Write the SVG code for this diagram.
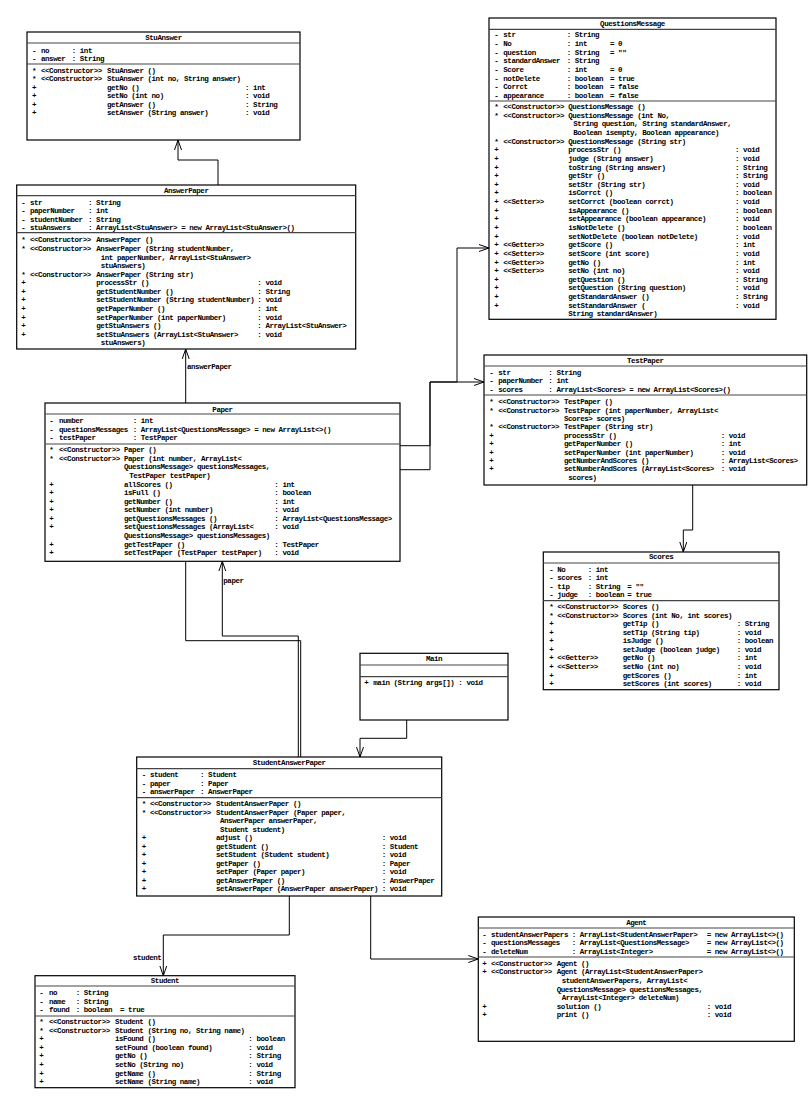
<svg xmlns="http://www.w3.org/2000/svg" width="808" height="1104" viewBox="0 0 808 1104">
<defs>
<style>
text{font-family:"Liberation Mono","DejaVu Sans Mono",monospace;font-size:7.5px;font-weight:bold;letter-spacing:-0.45px;fill:#000;dominant-baseline:central}
tspan{dominant-baseline:central}
.t{text-anchor:middle}
.b{fill:#fff;stroke:#000;stroke-width:1.2}
.d{stroke:#444;stroke-width:1.2}
.c{fill:none;stroke:#000;stroke-width:1}
</style>
<marker id="arr" viewBox="0 0 10 8" refX="10" refY="4" markerWidth="10" markerHeight="8" markerUnits="userSpaceOnUse" orient="auto">
<path d="M0,0.5 L10,4 L0,7.5" fill="none" stroke="#000" stroke-width="1"/>
</marker>
</defs>
<rect width="808" height="1104" fill="#fff"/>

<g id="connectors">
<path class="c" d="M218,185 V160 H178 V140" marker-end="url(#arr)"/>
<path class="c" d="M300.7,757 V640.7 H185.7 V349" marker-end="url(#arr)"/>
<path class="c" d="M400,445.7 H430 V382 H484" marker-end="url(#arr)"/>
<path class="c" d="M400,469.7 H430 V382 H457 V248 H489" marker-end="url(#arr)"/>
<path class="c" d="M692.7,485 V530 H683.3 V552" marker-end="url(#arr)"/>
<path class="c" d="M298.3,757 V636 H222.3 V561.3" marker-end="url(#arr)"/>
<path class="c" d="M406.7,720 V738.3 H360 V757" marker-end="url(#arr)"/>
<path class="c" d="M289.3,896 V935 H163.3 V975.7" marker-end="url(#arr)"/>
<path class="c" d="M370.7,896 V959 H478.3" marker-end="url(#arr)"/>
<text x="187" y="367">answerPaper</text>
<text x="223.3" y="580.7">paper</text>
<text x="133" y="957.7">student</text>
</g>

<g id="StuAnswer">
<rect class="b" x="27" y="32" width="273" height="108"/>
<text class="t" x="163.5" y="37.7">StuAnswer</text>
<line class="d" x1="27" y1="43" x2="300" y2="43"/>
<text y="50.7"><tspan x="32">-</tspan><tspan x="41">no</tspan><tspan x="71.7">: int</tspan></text>
<text y="58.9"><tspan x="32">-</tspan><tspan x="41">answer</tspan><tspan x="71.7">: String</tspan></text>
<line class="d" x1="27" y1="64" x2="300" y2="64"/>
<text y="70.7"><tspan x="32">*</tspan><tspan x="41">&lt;&lt;Constructor&gt;&gt;</tspan><tspan x="107">StuAnswer ()</tspan></text>
<text y="79.2"><tspan x="32">*</tspan><tspan x="41">&lt;&lt;Constructor&gt;&gt;</tspan><tspan x="107">StuAnswer (int no, String answer)</tspan></text>
<text y="87.7"><tspan x="32">+</tspan><tspan x="107">getNo ()</tspan><tspan x="245">: int</tspan></text>
<text y="96.3"><tspan x="32">+</tspan><tspan x="107">setNo (int no)</tspan><tspan x="245">: void</tspan></text>
<text y="104.8"><tspan x="32">+</tspan><tspan x="107">getAnswer ()</tspan><tspan x="245">: String</tspan></text>
<text y="113.3"><tspan x="32">+</tspan><tspan x="107">setAnswer (String answer)</tspan><tspan x="245">: void</tspan></text>
</g>

<g id="AnswerPaper">
<rect class="b" x="16.7" y="185" width="339" height="164"/>
<text class="t" x="186.2" y="190.5">AnswerPaper</text>
<line class="d" x1="16.7" y1="195.7" x2="355.7" y2="195.7"/>
<text y="202.7"><tspan x="21.3">-</tspan><tspan x="30">str</tspan><tspan x="88">: String</tspan></text>
<text y="211.2"><tspan x="21.3">-</tspan><tspan x="30">paperNumber</tspan><tspan x="88">: int</tspan></text>
<text y="219.7"><tspan x="21.3">-</tspan><tspan x="30">studentNumber</tspan><tspan x="88">: String</tspan></text>
<text y="228.2"><tspan x="21.3">-</tspan><tspan x="30">stuAnswers</tspan><tspan x="88">: ArrayList&lt;StuAnswer&gt; = new ArrayList&lt;StuAnswer&gt;()</tspan></text>
<line class="d" x1="16.7" y1="232.7" x2="355.7" y2="232.7"/>
<text y="240.3"><tspan x="21.3">*</tspan><tspan x="30">&lt;&lt;Constructor&gt;&gt;</tspan><tspan x="96.3">AnswerPaper ()</tspan></text>
<text y="248.9"><tspan x="21.3">*</tspan><tspan x="30">&lt;&lt;Constructor&gt;&gt;</tspan><tspan x="96.3">AnswerPaper (String studentNumber,</tspan></text>
<text y="257.5"><tspan x="100.7">int paperNumber, ArrayList&lt;StuAnswer&gt;</tspan></text>
<text y="266"><tspan x="100.7">stuAnswers)</tspan></text>
<text y="274.6"><tspan x="21.3">*</tspan><tspan x="30">&lt;&lt;Constructor&gt;&gt;</tspan><tspan x="96.3">AnswerPaper (String str)</tspan></text>
<text y="283.2"><tspan x="21.3">+</tspan><tspan x="96.3">processStr ()</tspan><tspan x="257.3">: void</tspan></text>
<text y="291.8"><tspan x="21.3">+</tspan><tspan x="96.3">getStudentNumber ()</tspan><tspan x="257.3">: String</tspan></text>
<text y="300.4"><tspan x="21.3">+</tspan><tspan x="96.3">setStudentNumber (String studentNumber)</tspan><tspan x="257.3">: void</tspan></text>
<text y="308.9"><tspan x="21.3">+</tspan><tspan x="96.3">getPaperNumber ()</tspan><tspan x="257.3">: int</tspan></text>
<text y="317.5"><tspan x="21.3">+</tspan><tspan x="96.3">setPaperNumber (int paperNumber)</tspan><tspan x="257.3">: void</tspan></text>
<text y="326.1"><tspan x="21.3">+</tspan><tspan x="96.3">getStuAnswers ()</tspan><tspan x="257.3">: ArrayList&lt;StuAnswer&gt;</tspan></text>
<text y="334.7"><tspan x="21.3">+</tspan><tspan x="96.3">setStuAnswers (ArrayList&lt;StuAnswer&gt;</tspan><tspan x="257.3">: void</tspan></text>
<text y="343.3"><tspan x="100.7">stuAnswers)</tspan></text>
</g>

<g id="QuestionsMessage">
<rect class="b" x="489" y="18" width="287" height="301.3"/>
<text class="t" x="632.5" y="23.7">QuestionsMessage</text>
<line class="d" x1="489" y1="29.3" x2="776" y2="29.3"/>
<text y="35.3"><tspan x="494.3">-</tspan><tspan x="503.3">str</tspan><tspan x="566.7">: String</tspan></text>
<text y="44"><tspan x="494.3">-</tspan><tspan x="503.3">No</tspan><tspan x="566.7">: int</tspan><tspan x="610">= 0</tspan></text>
<text y="52.6"><tspan x="494.3">-</tspan><tspan x="503.3">question</tspan><tspan x="566.7">: String</tspan><tspan x="610">= ""</tspan></text>
<text y="61.3"><tspan x="494.3">-</tspan><tspan x="503.3">standardAnswer</tspan><tspan x="566.7">: String</tspan></text>
<text y="70"><tspan x="494.3">-</tspan><tspan x="503.3">Score</tspan><tspan x="566.7">: int</tspan><tspan x="610">= 0</tspan></text>
<text y="78.7"><tspan x="494.3">-</tspan><tspan x="503.3">notDelete</tspan><tspan x="566.7">: boolean</tspan><tspan x="610">= true</tspan></text>
<text y="87.3"><tspan x="494.3">-</tspan><tspan x="503.3">Corrct</tspan><tspan x="566.7">: boolean</tspan><tspan x="610">= false</tspan></text>
<text y="96"><tspan x="494.3">-</tspan><tspan x="503.3">appearance</tspan><tspan x="566.7">: boolean</tspan><tspan x="610">= false</tspan></text>
<line class="d" x1="489" y1="101" x2="776" y2="101"/>
<text y="107"><tspan x="494.3">*</tspan><tspan x="503.3">&lt;&lt;Constructor&gt;&gt;</tspan><tspan x="568.3">QuestionsMessage ()</tspan></text>
<text y="115.6"><tspan x="494.3">*</tspan><tspan x="503.3">&lt;&lt;Constructor&gt;&gt;</tspan><tspan x="568.3">QuestionsMessage (int No,</tspan></text>
<text y="124.3"><tspan x="573.3">String question, String standardAnswer,</tspan></text>
<text y="132.9"><tspan x="573.3">Boolean isempty, Boolean appearance)</tspan></text>
<text y="141.6"><tspan x="494.3">*</tspan><tspan x="503.3">&lt;&lt;Constructor&gt;&gt;</tspan><tspan x="568.3">QuestionsMessage (String str)</tspan></text>
<text y="150.2"><tspan x="494.3">+</tspan><tspan x="568.3">processStr ()</tspan><tspan x="735">: void</tspan></text>
<text y="158.8"><tspan x="494.3">+</tspan><tspan x="568.3">judge (String answer)</tspan><tspan x="735">: void</tspan></text>
<text y="167.5"><tspan x="494.3">+</tspan><tspan x="568.3">toString (String answer)</tspan><tspan x="735">: String</tspan></text>
<text y="176.1"><tspan x="494.3">+</tspan><tspan x="568.3">getStr ()</tspan><tspan x="735">: String</tspan></text>
<text y="184.8"><tspan x="494.3">+</tspan><tspan x="568.3">setStr (String str)</tspan><tspan x="735">: void</tspan></text>
<text y="193.4"><tspan x="494.3">+</tspan><tspan x="568.3">isCorrct ()</tspan><tspan x="735">: boolean</tspan></text>
<text y="202"><tspan x="494.3">+</tspan><tspan x="503.3">&lt;&lt;Setter&gt;&gt;</tspan><tspan x="568.3">setCorrct (boolean corrct)</tspan><tspan x="735">: void</tspan></text>
<text y="210.7"><tspan x="494.3">+</tspan><tspan x="568.3">isAppearance ()</tspan><tspan x="735">: boolean</tspan></text>
<text y="219.3"><tspan x="494.3">+</tspan><tspan x="568.3">setAppearance (boolean appearance)</tspan><tspan x="735">: void</tspan></text>
<text y="228"><tspan x="494.3">+</tspan><tspan x="568.3">isNotDelete ()</tspan><tspan x="735">: boolean</tspan></text>
<text y="236.6"><tspan x="494.3">+</tspan><tspan x="568.3">setNotDelete (boolean notDelete)</tspan><tspan x="735">: void</tspan></text>
<text y="245.2"><tspan x="494.3">+</tspan><tspan x="503.3">&lt;&lt;Getter&gt;&gt;</tspan><tspan x="568.3">getScore ()</tspan><tspan x="735">: int</tspan></text>
<text y="253.9"><tspan x="494.3">+</tspan><tspan x="503.3">&lt;&lt;Setter&gt;&gt;</tspan><tspan x="568.3">setScore (int score)</tspan><tspan x="735">: void</tspan></text>
<text y="262.5"><tspan x="494.3">+</tspan><tspan x="503.3">&lt;&lt;Getter&gt;&gt;</tspan><tspan x="568.3">getNo ()</tspan><tspan x="735">: int</tspan></text>
<text y="271.2"><tspan x="494.3">+</tspan><tspan x="503.3">&lt;&lt;Setter&gt;&gt;</tspan><tspan x="568.3">setNo (int no)</tspan><tspan x="735">: void</tspan></text>
<text y="279.8"><tspan x="494.3">+</tspan><tspan x="568.3">getQuestion ()</tspan><tspan x="735">: String</tspan></text>
<text y="288.4"><tspan x="494.3">+</tspan><tspan x="568.3">setQuestion (String question)</tspan><tspan x="735">: void</tspan></text>
<text y="297.1"><tspan x="494.3">+</tspan><tspan x="568.3">getStandardAnswer ()</tspan><tspan x="735">: String</tspan></text>
<text y="305.7"><tspan x="494.3">+</tspan><tspan x="568.3">setStandardAnswer (</tspan><tspan x="735">: void</tspan></text>
<text y="314.4"><tspan x="568.3">String standardAnswer)</tspan></text>
</g>

<g id="TestPaper">
<rect class="b" x="484" y="355" width="322.7" height="130"/>
<text class="t" x="645.3" y="360.7">TestPaper</text>
<line class="d" x1="484" y1="366" x2="806.7" y2="366"/>
<text y="372.7"><tspan x="489.3">-</tspan><tspan x="498.3">str</tspan><tspan x="548.3">: String</tspan></text>
<text y="381.2"><tspan x="489.3">-</tspan><tspan x="498.3">paperNumber</tspan><tspan x="548.3">: int</tspan></text>
<text y="389.7"><tspan x="489.3">-</tspan><tspan x="498.3">scores</tspan><tspan x="548.3">: ArrayList&lt;Scores&gt; = new ArrayList&lt;Scores&gt;()</tspan></text>
<line class="d" x1="484" y1="395" x2="806.7" y2="395"/>
<text y="402.3"><tspan x="489.3">*</tspan><tspan x="498.3">&lt;&lt;Constructor&gt;&gt;</tspan><tspan x="564">TestPaper ()</tspan></text>
<text y="410.7"><tspan x="489.3">*</tspan><tspan x="498.3">&lt;&lt;Constructor&gt;&gt;</tspan><tspan x="564">TestPaper (int paperNumber, ArrayList&lt;</tspan></text>
<text y="419.1"><tspan x="564">Scores&gt; scores)</tspan></text>
<text y="427.4"><tspan x="489.3">*</tspan><tspan x="498.3">&lt;&lt;Constructor&gt;&gt;</tspan><tspan x="564">TestPaper (String str)</tspan></text>
<text y="435.8"><tspan x="489.3">+</tspan><tspan x="564">processStr ()</tspan><tspan x="720.7">: void</tspan></text>
<text y="444.2"><tspan x="489.3">+</tspan><tspan x="564">getPaperNumber ()</tspan><tspan x="720.7">: int</tspan></text>
<text y="452.6"><tspan x="489.3">+</tspan><tspan x="564">setPaperNumber (int paperNumber)</tspan><tspan x="720.7">: void</tspan></text>
<text y="461"><tspan x="489.3">+</tspan><tspan x="564">getNumberAndScores ()</tspan><tspan x="720.7">: ArrayList&lt;Scores&gt;</tspan></text>
<text y="469.3"><tspan x="489.3">+</tspan><tspan x="564">setNumberAndScores (ArrayList&lt;Scores&gt;</tspan><tspan x="720.7">: void</tspan></text>
<text y="477.7"><tspan x="568.3">scores)</tspan></text>
</g>

<g id="Paper">
<rect class="b" x="45" y="403" width="355" height="158.3"/>
<text class="t" x="222.5" y="409.7">Paper</text>
<line class="d" x1="45" y1="414" x2="400" y2="414"/>
<text y="421.3"><tspan x="49.3">-</tspan><tspan x="59">number</tspan><tspan x="132.7">: int</tspan></text>
<text y="429.8"><tspan x="49.3">-</tspan><tspan x="59">questionsMessages</tspan><tspan x="132.7">: ArrayList&lt;QuestionsMessage&gt; = new ArrayList&lt;&gt;()</tspan></text>
<text y="438.3"><tspan x="49.3">-</tspan><tspan x="59">testPaper</tspan><tspan x="132.7">: TestPaper</tspan></text>
<line class="d" x1="45" y1="444" x2="400" y2="444"/>
<text y="450.3"><tspan x="49.3">*</tspan><tspan x="59">&lt;&lt;Constructor&gt;&gt;</tspan><tspan x="124">Paper ()</tspan></text>
<text y="458.9"><tspan x="49.3">*</tspan><tspan x="59">&lt;&lt;Constructor&gt;&gt;</tspan><tspan x="124">Paper (int number, ArrayList&lt;</tspan></text>
<text y="467.4"><tspan x="124">QuestionsMessage&gt; questionsMessages,</tspan></text>
<text y="476"><tspan x="129.3">TestPaper testPaper)</tspan></text>
<text y="484.5"><tspan x="49.3">+</tspan><tspan x="124">allScores ()</tspan><tspan x="274.3">: int</tspan></text>
<text y="493.1"><tspan x="49.3">+</tspan><tspan x="124">isFull ()</tspan><tspan x="274.3">: boolean</tspan></text>
<text y="501.7"><tspan x="49.3">+</tspan><tspan x="124">getNumber ()</tspan><tspan x="274.3">: int</tspan></text>
<text y="510.2"><tspan x="49.3">+</tspan><tspan x="124">setNumber (int number)</tspan><tspan x="274.3">: void</tspan></text>
<text y="518.8"><tspan x="49.3">+</tspan><tspan x="124">getQuestionsMessages ()</tspan><tspan x="274.3">: ArrayList&lt;QuestionsMessage&gt;</tspan></text>
<text y="527.3"><tspan x="49.3">+</tspan><tspan x="124">setQuestionsMessages (ArrayList&lt;</tspan><tspan x="274.3">: void</tspan></text>
<text y="535.9"><tspan x="124">QuestionsMessage&gt; questionsMessages)</tspan></text>
<text y="544.5"><tspan x="49.3">+</tspan><tspan x="124">getTestPaper ()</tspan><tspan x="274.3">: TestPaper</tspan></text>
<text y="553"><tspan x="49.3">+</tspan><tspan x="124">setTestPaper (TestPaper testPaper)</tspan><tspan x="274.3">: void</tspan></text>
</g>

<g id="Scores">
<rect class="b" x="543.3" y="552" width="235.7" height="137.7"/>
<text class="t" x="661.2" y="557.3">Scores</text>
<line class="d" x1="543.3" y1="563" x2="779" y2="563"/>
<text y="569.7"><tspan x="549.3">-</tspan><tspan x="557.3">No</tspan><tspan x="587.7">: int</tspan></text>
<text y="578.2"><tspan x="549.3">-</tspan><tspan x="557.3">scores</tspan><tspan x="587.7">: int</tspan></text>
<text y="586.7"><tspan x="549.3">-</tspan><tspan x="557.3">tip</tspan><tspan x="587.7">: String</tspan><tspan x="627.3">= ""</tspan></text>
<text y="595.2"><tspan x="549.3">-</tspan><tspan x="557.3">judge</tspan><tspan x="587.7">: boolean</tspan><tspan x="627.3">= true</tspan></text>
<line class="d" x1="543.3" y1="600.7" x2="779" y2="600.7"/>
<text y="607.3"><tspan x="549.3">*</tspan><tspan x="557.3">&lt;&lt;Constructor&gt;&gt;</tspan><tspan x="622.7">Scores ()</tspan></text>
<text y="615.8"><tspan x="549.3">*</tspan><tspan x="557.3">&lt;&lt;Constructor&gt;&gt;</tspan><tspan x="622.7">Scores (int No, int scores)</tspan></text>
<text y="624.3"><tspan x="549.3">+</tspan><tspan x="622.7">getTip ()</tspan><tspan x="736.7">: String</tspan></text>
<text y="632.9"><tspan x="549.3">+</tspan><tspan x="622.7">setTip (String tip)</tspan><tspan x="736.7">: void</tspan></text>
<text y="641.4"><tspan x="549.3">+</tspan><tspan x="622.7">isJudge ()</tspan><tspan x="736.7">: boolean</tspan></text>
<text y="649.9"><tspan x="549.3">+</tspan><tspan x="622.7">setJudge (boolean judge)</tspan><tspan x="736.7">: void</tspan></text>
<text y="658.4"><tspan x="549.3">+</tspan><tspan x="557.3">&lt;&lt;Getter&gt;&gt;</tspan><tspan x="622.7">getNo ()</tspan><tspan x="736.7">: int</tspan></text>
<text y="666.9"><tspan x="549.3">+</tspan><tspan x="557.3">&lt;&lt;Setter&gt;&gt;</tspan><tspan x="622.7">setNo (int no)</tspan><tspan x="736.7">: void</tspan></text>
<text y="675.5"><tspan x="549.3">+</tspan><tspan x="622.7">getScores ()</tspan><tspan x="736.7">: int</tspan></text>
<text y="684"><tspan x="549.3">+</tspan><tspan x="622.7">setScores (int scores)</tspan><tspan x="736.7">: void</tspan></text>
</g>

<g id="Main">
<rect class="b" x="360" y="653.3" width="148" height="66.7"/>
<text class="t" x="434" y="659">Main</text>
<line class="d" x1="360" y1="665" x2="508" y2="665"/>
<line class="d" x1="360" y1="676.7" x2="508" y2="676.7"/>
<text y="683.3"><tspan x="364.3">+</tspan><tspan x="373.3">main (String args[]) : void</tspan></text>
</g>

<g id="StudentAnswerPaper">
<rect class="b" x="136.7" y="757" width="305" height="139"/>
<text class="t" x="289.2" y="763">StudentAnswerPaper</text>
<line class="d" x1="136.7" y1="768.7" x2="441.7" y2="768.7"/>
<text y="775.3"><tspan x="141.7">-</tspan><tspan x="150">student</tspan><tspan x="200">: Student</tspan></text>
<text y="783.8"><tspan x="141.7">-</tspan><tspan x="150">paper</tspan><tspan x="200">: Paper</tspan></text>
<text y="792.3"><tspan x="141.7">-</tspan><tspan x="150">answerPaper</tspan><tspan x="200">: AnswerPaper</tspan></text>
<line class="d" x1="136.7" y1="797.7" x2="441.7" y2="797.7"/>
<text y="804.3"><tspan x="141.7">*</tspan><tspan x="150">&lt;&lt;Constructor&gt;&gt;</tspan><tspan x="216">StudentAnswerPaper ()</tspan></text>
<text y="812.8"><tspan x="141.7">*</tspan><tspan x="150">&lt;&lt;Constructor&gt;&gt;</tspan><tspan x="216">StudentAnswerPaper (Paper paper,</tspan></text>
<text y="821.3"><tspan x="220">AnswerPaper answerPaper,</tspan></text>
<text y="829.8"><tspan x="220">Student student)</tspan></text>
<text y="838.3"><tspan x="141.7">+</tspan><tspan x="216">adjust ()</tspan><tspan x="381.7">: void</tspan></text>
<text y="846.8"><tspan x="141.7">+</tspan><tspan x="216">getStudent ()</tspan><tspan x="381.7">: Student</tspan></text>
<text y="855.3"><tspan x="141.7">+</tspan><tspan x="216">setStudent (Student student)</tspan><tspan x="381.7">: void</tspan></text>
<text y="863.8"><tspan x="141.7">+</tspan><tspan x="216">getPaper ()</tspan><tspan x="381.7">: Paper</tspan></text>
<text y="872.3"><tspan x="141.7">+</tspan><tspan x="216">setPaper (Paper paper)</tspan><tspan x="381.7">: void</tspan></text>
<text y="880.8"><tspan x="141.7">+</tspan><tspan x="216">getAnswerPaper ()</tspan><tspan x="381.7">: AnswerPaper</tspan></text>
<text y="889.3"><tspan x="141.7">+</tspan><tspan x="216">setAnswerPaper (AnswerPaper answerPaper)</tspan><tspan x="381.7">: void</tspan></text>
</g>

<g id="Agent">
<rect class="b" x="478.3" y="917" width="316" height="124.3"/>
<text class="t" x="636.3" y="922.7">Agent</text>
<line class="d" x1="478.3" y1="928" x2="794.3" y2="928"/>
<text y="934.7"><tspan x="482.3">-</tspan><tspan x="491">studentAnswerPapers</tspan><tspan x="571.7">: ArrayList&lt;StudentAnswerPaper&gt;</tspan><tspan x="706.7">= new ArrayList&lt;&gt;()</tspan></text>
<text y="943.2"><tspan x="482.3">-</tspan><tspan x="491">questionsMessages</tspan><tspan x="571.7">: ArrayList&lt;QuestionsMessage&gt;</tspan><tspan x="706.7">= new ArrayList&lt;&gt;()</tspan></text>
<text y="951.7"><tspan x="482.3">-</tspan><tspan x="491">deleteNum</tspan><tspan x="571.7">: ArrayList&lt;Integer&gt;</tspan><tspan x="706.7">= new ArrayList&lt;&gt;()</tspan></text>
<line class="d" x1="478.3" y1="957" x2="794.3" y2="957"/>
<text y="963.7"><tspan x="482.3">+</tspan><tspan x="491">&lt;&lt;Constructor&gt;&gt;</tspan><tspan x="556.7">Agent ()</tspan></text>
<text y="972.3"><tspan x="482.3">+</tspan><tspan x="491">&lt;&lt;Constructor&gt;&gt;</tspan><tspan x="556.7">Agent (ArrayList&lt;StudentAnswerPaper&gt;</tspan></text>
<text y="980.9"><tspan x="561.7">studentAnswerPapers, ArrayList&lt;</tspan></text>
<text y="989.5"><tspan x="556.7">QuestionsMessage&gt; questionsMessages,</tspan></text>
<text y="998.1"><tspan x="561.7">ArrayList&lt;Integer&gt; deleteNum)</tspan></text>
<text y="1006.7"><tspan x="482.3">+</tspan><tspan x="556.7">solution ()</tspan><tspan x="706.7">: void</tspan></text>
<text y="1015.3"><tspan x="482.3">+</tspan><tspan x="556.7">print ()</tspan><tspan x="706.7">: void</tspan></text>
</g>

<g id="Student">
<rect class="b" x="35" y="975.7" width="260" height="112"/>
<text class="t" x="165" y="981">Student</text>
<line class="d" x1="35" y1="986" x2="295" y2="986"/>
<text y="993.3"><tspan x="39.3">-</tspan><tspan x="49">no</tspan><tspan x="75.7">: String</tspan></text>
<text y="1001.7"><tspan x="39.3">-</tspan><tspan x="49">name</tspan><tspan x="75.7">: String</tspan></text>
<text y="1010"><tspan x="39.3">-</tspan><tspan x="49">found</tspan><tspan x="75.7">: boolean</tspan><tspan x="120">= true</tspan></text>
<line class="d" x1="35" y1="1016" x2="295" y2="1016"/>
<text y="1022.3"><tspan x="39.3">*</tspan><tspan x="49">&lt;&lt;Constructor&gt;&gt;</tspan><tspan x="115">Student ()</tspan></text>
<text y="1030.8"><tspan x="39.3">*</tspan><tspan x="49">&lt;&lt;Constructor&gt;&gt;</tspan><tspan x="115">Student (String no, String name)</tspan></text>
<text y="1039.4"><tspan x="39.3">+</tspan><tspan x="115">isFound ()</tspan><tspan x="248.3">: boolean</tspan></text>
<text y="1047.9"><tspan x="39.3">+</tspan><tspan x="115">setFound (boolean found)</tspan><tspan x="248.3">: void</tspan></text>
<text y="1056.4"><tspan x="39.3">+</tspan><tspan x="115">getNo ()</tspan><tspan x="248.3">: String</tspan></text>
<text y="1065"><tspan x="39.3">+</tspan><tspan x="115">setNo (String no)</tspan><tspan x="248.3">: void</tspan></text>
<text y="1073.5"><tspan x="39.3">+</tspan><tspan x="115">getName ()</tspan><tspan x="248.3">: String</tspan></text>
<text y="1082"><tspan x="39.3">+</tspan><tspan x="115">setName (String name)</tspan><tspan x="248.3">: void</tspan></text>
</g>
</svg>
